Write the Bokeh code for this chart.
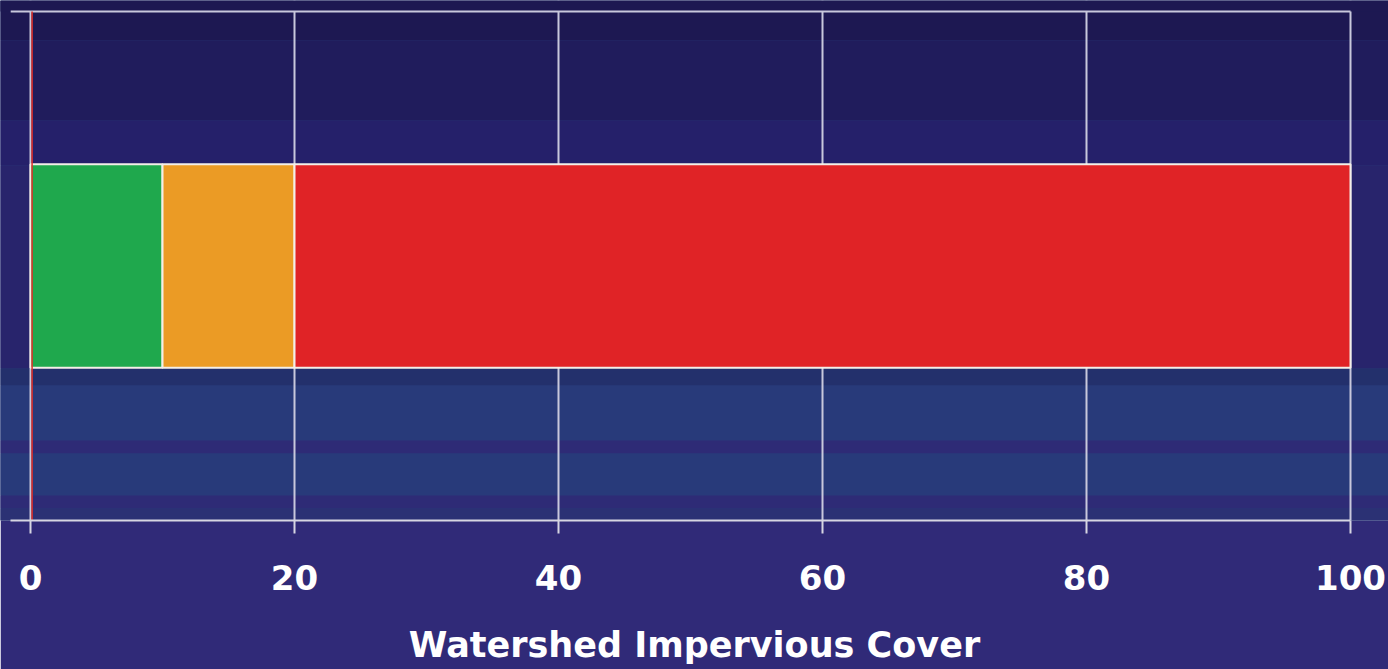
from bokeh.plotting import figure
from bokeh.models import Range1d, FixedTicker
from bokeh.embed import file_html
from bokeh.resources import INLINE

# Impervious-cover zones along the 0-100 % scale
zones = ["Sensitive", "Impacted", "Non-Supporting"]
zone_start = [0, 10, 20]
zone_end = [10, 20, 100]
zone_colors = ["#1fa84d", "#eb9b25", "#e02326"]
x_ticks = [0, 20, 40, 60, 80, 100]
axis_title = "Watershed Impervious Cover"

# geometry of the drawing area (pixels)
FRAME_W, FRAME_H = 1388, 520
PLOT_TOP_PX = 11            # top border line of the plotting box
PX_PER_UNIT = 13.2
X_LEFT_PX = 30
x_start = -X_LEFT_PX / PX_PER_UNIT
x_end = x_start + FRAME_W / PX_PER_UNIT
box_h = FRAME_H - PLOT_TOP_PX
y_end = FRAME_H / box_h


def row_to_y(px):
    """Convert a pixel row (from the top of the frame) to a y value."""
    return (FRAME_H - px) / box_h


p = figure(
    frame_width=FRAME_W, frame_height=FRAME_H,
    min_border_left=0, min_border_right=0, min_border_top=0, min_border_bottom=149,
    x_range=Range1d(x_start, x_end), y_range=Range1d(0, y_end),
    y_axis_location=None, output_backend="svg", toolbar_location=None,
    border_fill_color="#302a78", background_fill_color="#283a7a",
    outline_line_color=None,
)

# horizontal shading bands of the backdrop
bands = [
    (0, 40, "#1d1852"), (40, 120, "#201c5c"), (120, 165, "#25206a"),
    (165, 368, "#28246c"), (368, 385, "#23306c"), (385, 440, "#283a7a"),
    (440, 453, "#2e2b76"), (453, 495, "#283a7a"), (495, 508, "#2e2b76"),
    (508, 520, "#2b3174"),
]
p.quad(left=x_start - 5, right=x_end + 5,
       top=[row_to_y(b[0]) for b in bands], bottom=[row_to_y(b[1]) for b in bands],
       fill_color=[b[2] for b in bands], line_color=None, level="image")

# strip above the top border hides the grid lines there
p.quad(left=x_start - 5, right=x_end + 5, top=y_end, bottom=1.0,
       fill_color="#1d1852", line_color=None)

# top border of the plotting box
p.segment(x0=-1.5, y0=1.0, x1=100, y1=1.0, line_color="#c8c8dc", line_width=2)

# stacked zone bar
p.hbar(y=[0.5] * len(zones), left=zone_start, right=zone_end, height=0.4,
       fill_color=zone_colors, line_color="#f4efe8", line_width=2)

# red rule along the zero line
p.segment(x0=0.12, y0=0, x1=0.12, y1=1.0, line_color="#e0302a", line_width=1.5)

p.xgrid.ticker = FixedTicker(ticks=x_ticks)
p.xgrid.grid_line_color = "#c8c8dc"
p.xgrid.grid_line_width = 2
p.ygrid.grid_line_color = None

ax = p.xaxis[0]
ax.ticker = FixedTicker(ticks=x_ticks)
ax.bounds = (-1.5, 100)
ax.axis_line_color = "#d6d6e2"
ax.axis_line_width = 2
ax.major_tick_line_color = "#d6d6e2"
ax.major_tick_line_width = 2
ax.major_tick_in = 0
ax.major_tick_out = 13
ax.minor_tick_line_color = None
ax.major_label_text_font = "DejaVu Sans"
ax.major_label_text_font_style = "bold"
ax.major_label_text_font_size = "34px"
ax.major_label_text_color = "white"
ax.major_label_standoff = 31
ax.axis_label = axis_title
ax.axis_label_text_font = "DejaVu Sans"
ax.axis_label_text_font_style = "bold"
ax.axis_label_text_font_size = "35px"
ax.axis_label_text_color = "white"
ax.axis_label_standoff = 32

open("out.html", "w").write(file_html(p, INLINE))
